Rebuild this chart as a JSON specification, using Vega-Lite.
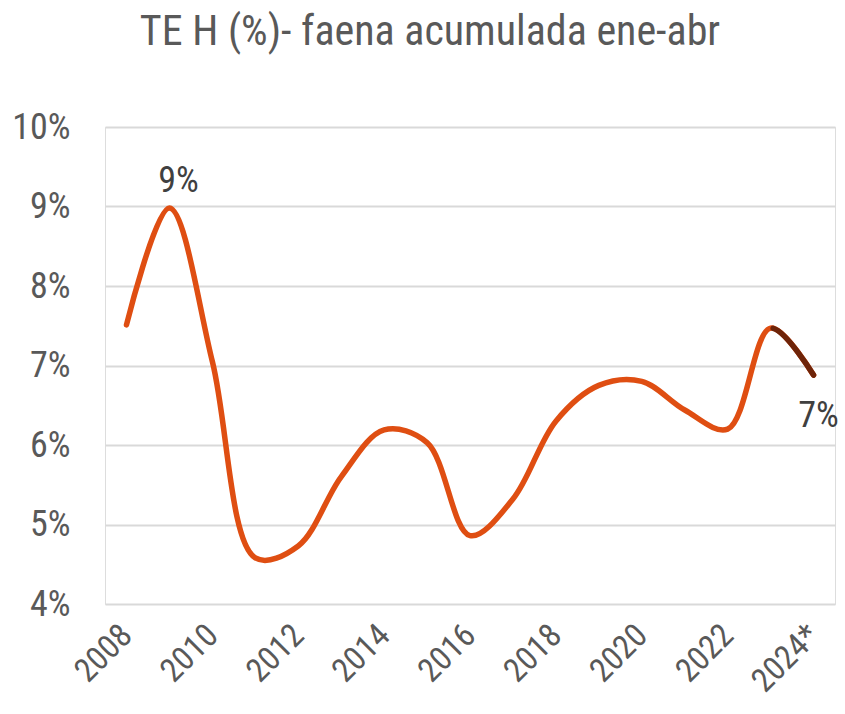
{
  "$schema": "https://vega.github.io/schema/vega-lite/v6.json",
  "autosize": "none",
  "width": 730,
  "height": 477,
  "padding": {"left": 105, "top": 127, "right": 10, "bottom": 110},
  "background": "white",
  "title": {
    "text": "TE H (%)- faena acumulada ene-abr",
    "font": "Liberation Sans Narrow, Roboto Condensed, Roboto",
    "fontSize": 42,
    "fontWeight": "normal",
    "color": "#595959",
    "anchor": "middle",
    "dx": -40,
    "offset": 55
  },
  "datasets": {
    "main": [
      {"year": "2008", "value": 7.51},
      {"year": "2009", "value": 8.98},
      {"year": "2010", "value": 7.05},
      {"year": "2011", "value": 4.58},
      {"year": "2012", "value": 4.73},
      {"year": "2013", "value": 5.6},
      {"year": "2014", "value": 6.19},
      {"year": "2015", "value": 6.03},
      {"year": "2016", "value": 4.86},
      {"year": "2017", "value": 5.32},
      {"year": "2018", "value": 6.3},
      {"year": "2019", "value": 6.75},
      {"year": "2020", "value": 6.8},
      {"year": "2021", "value": 6.44},
      {"year": "2022", "value": 6.2},
      {"year": "2023", "value": 7.47},
      {"year": "2024*", "value": 6.88}
    ],
    "labels": [
      {"year": "2009", "value": 8.98, "label": "9%", "pos": "above"},
      {"year": "2024*", "value": 6.88, "label": "7%", "pos": "below"}
    ]
  },
  "encoding": {
    "x": {
      "field": "year",
      "type": "ordinal",
      "sort": null,
      "scale": {"type": "point", "padding": 0.5, "domain": ["2008","2009","2010","2011","2012","2013","2014","2015","2016","2017","2018","2019","2020","2021","2022","2023","2024*"]},
      "axis": {
        "title": null,
        "values": ["2008","2010","2012","2014","2016","2018","2020","2022","2024*"],
        "labelAngle": -45,
        "labelAlign": "right",
        "labelBaseline": "middle",
        "labelFont": "Liberation Sans Narrow, Roboto Condensed, Roboto",
        "labelFontSize": 33,
        "labelColor": "#595959",
        "labelPadding": 26,
        "domain": false,
        "ticks": false,
        "grid": false
      }
    },
    "y": {
      "field": "value",
      "type": "quantitative",
      "scale": {"domain": [4, 10], "nice": false, "zero": false},
      "axis": {
        "title": null,
        "values": [4,5,6,7,8,9,10],
        "labelExpr": "datum.value + '%'",
        "labelFont": "Liberation Sans Narrow, Roboto Condensed, Roboto",
        "labelFontSize": 36,
        "labelColor": "#595959",
        "labelPadding": 35,
        "domain": false,
        "ticks": false,
        "grid": true,
        "gridColor": "#d9d9d9",
        "gridWidth": 2
      }
    }
  },
  "layer": [
    {
      "data": {"name": "main"},
      "mark": {"type": "line", "interpolate": "catmull-rom", "color": "#DF4E12", "strokeWidth": 5.5, "strokeCap": "round"}
    },
    {
      "data": {"name": "main"},
      "transform": [{"filter": "datum.year >= '2022'"}],
      "mark": {"type": "line", "interpolate": "catmull-rom", "color": "#6E2409", "strokeWidth": 5.5, "strokeCap": "round", "strokeDash": [1000, 114], "strokeDashOffset": 1000}
    },
    {
      "data": {"name": "labels"},
      "transform": [{"filter": "datum.pos == 'above'"}],
      "mark": {"type": "text", "dy": -27, "fontSize": 36, "font": "Liberation Sans Narrow, Roboto Condensed, Roboto", "color": "#404040", "baseline": "middle", "dx": 9},
      "encoding": {"text": {"field": "label"}}
    },
    {
      "data": {"name": "labels"},
      "transform": [{"filter": "datum.pos == 'below'"}],
      "mark": {"type": "text", "dy": 41, "dx": 5, "fontSize": 36, "font": "Liberation Sans Narrow, Roboto Condensed, Roboto", "color": "#404040", "baseline": "middle"},
      "encoding": {"text": {"field": "label"}}
    }
  ]
}
